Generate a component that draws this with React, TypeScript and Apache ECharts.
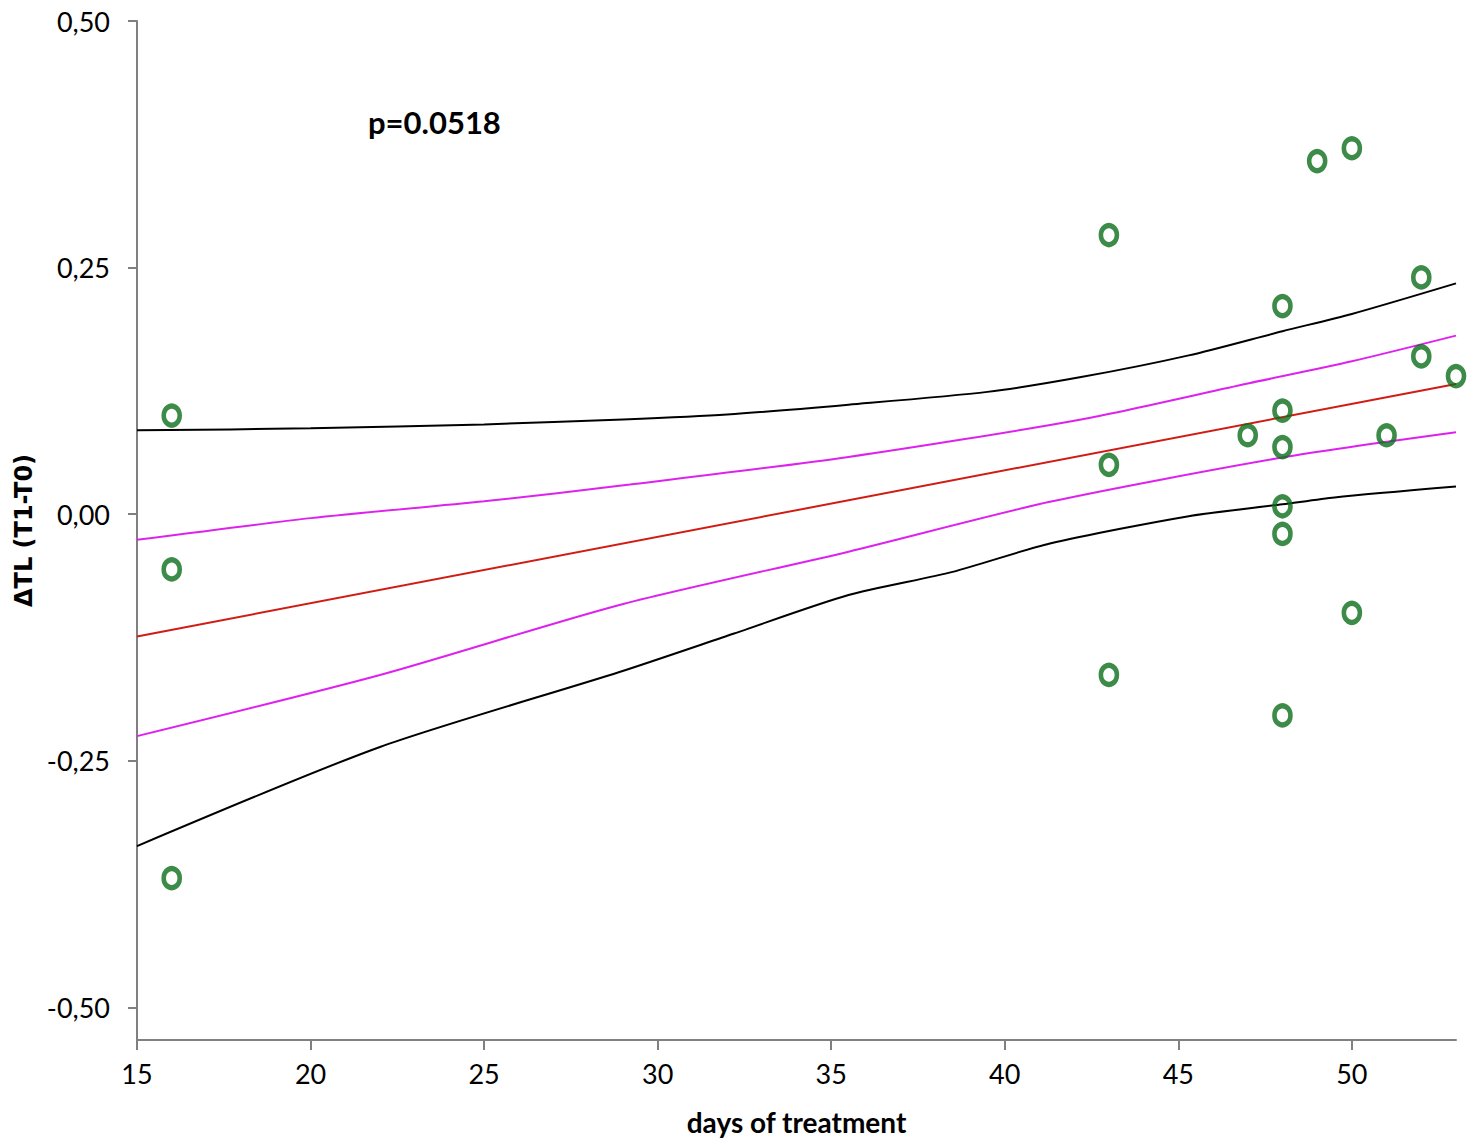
import React, { useEffect, useRef } from "react";
import * as echarts from "echarts";

const xTicks = [15, 20, 25, 30, 35, 40, 45, 50];
const yTicks = [-0.5, -0.25, 0, 0.25, 0.5];

const pointsX = [16, 16, 16, 43, 43, 43, 47, 48, 48, 48, 48, 48, 48, 49, 50, 50, 51, 52, 52, 53];
const pointsY = [0.1, -0.056, -0.369, 0.283, 0.05, -0.163, 0.08, 0.211, 0.105, 0.068, 0.008, -0.02, -0.204, 0.358, 0.371, -0.1, 0.08, 0.24, 0.16, 0.14];

const fitX = [15, 53];
const fitY = [-0.124, 0.132];

const upperPredX = [15, 20, 25, 29, 32, 35.5, 39.5, 42.2, 45.3, 48, 50, 53];
const upperPredY = [0.085, 0.087, 0.091, 0.096, 0.101, 0.111, 0.124, 0.139, 0.161, 0.1855, 0.203, 0.234];

const upperConfX = [15, 20, 25, 29.2, 35.5, 42.2, 47, 50, 53];
const upperConfY = [-0.026, -0.004, 0.013, 0.03, 0.058, 0.096, 0.1325, 0.155, 0.181];

const lowerConfX = [15, 22, 28.9, 35.5, 41.3, 48, 53];
const lowerConfY = [-0.225, -0.163, -0.092, -0.038, 0.0125, 0.0575, 0.083];

const lowerPredX = [15, 22, 28.9, 32.2, 35.5, 38.5, 41.3, 45.3, 48, 49.5, 53];
const lowerPredY = [-0.3365, -0.236, -0.16, -0.121, -0.082, -0.0585, -0.0297, -0.002, 0.01, 0.017, 0.028];

const zip = (xs: number[], ys: number[]) => xs.map((x, i) => [x, ys[i]]);

const FONT = "Lato";

export default function App() {
  const ref = useRef<HTMLDivElement>(null);
  useEffect(() => {
    if (!ref.current) return;
    const chart = echarts.init(ref.current, undefined, { renderer: "svg" });
    const lineSeries = (data: number[][], color: string, width = 2) => ({
      type: "line",
      data,
      showSymbol: false,
      symbol: "none",
      smooth: 0.25,
      lineStyle: { color, width },
      z: 2,
    });
    chart.setOption({
      animation: false,
      grid: { left: 129, right: 13, top: 21, bottom: 100, containLabel: false, outerBoundsMode: "none" },
      xAxis: {
        type: "value",
        min: 15,
        max: 53,
        interval: 5,
        name: "days of treatment",
        nameLocation: "middle",
        nameGap: 68,
        nameTextStyle: { fontFamily: FONT, fontWeight: "bold", fontSize: 28, color: "#000" },
        axisLine: { show: true, onZero: false, lineStyle: { color: "#808080", width: 2 } },
        axisTick: { show: true, length: 10, customValues: xTicks, lineStyle: { color: "#808080", width: 2 } },
        axisLabel: {
          customValues: xTicks,
          margin: 20,
          fontFamily: FONT,
          fontSize: 27,
          color: "#000",
        },
        splitLine: { show: false },
      },
      yAxis: {
        type: "value",
        min: -0.5331,
        max: 0.5,
        name: "ΔTL (T1-T0)",
        nameLocation: "middle",
        nameGap: 99,
        nameRotate: 90,
        nameTextStyle: { fontFamily: "DejaVu Sans", fontWeight: "bold", fontSize: 24, color: "#000" },
        axisLine: { show: true, onZero: false, lineStyle: { color: "#808080", width: 2 } },
        axisTick: { show: true, length: 9, customValues: yTicks, lineStyle: { color: "#808080", width: 2 } },
        axisLabel: {
          customValues: yTicks,
          margin: 27,
          fontFamily: FONT,
          fontSize: 27,
          color: "#000",
          formatter: (v: number) => v.toFixed(2).replace(".", ","),
        },
        splitLine: { show: false },
      },
      graphic: [
        {
          type: "text",
          left: 360,
          top: 106,
          style: {
            text: "p=0.0518",
            fontFamily: FONT,
            fontWeight: "bold",
            fontSize: 31,
            fill: "#000",
          },
        },
      ],
      series: [
        lineSeries(zip(upperPredX, upperPredY), "#000000"),
        lineSeries(zip(lowerPredX, lowerPredY), "#000000"),
        lineSeries(zip(upperConfX, upperConfY), "#dd22ee"),
        lineSeries(zip(lowerConfX, lowerConfY), "#dd22ee"),
        lineSeries(zip(fitX, fitY), "#d01c14"),
        {
          type: "scatter",
          data: zip(pointsX, pointsY),
          symbol: "circle",
          symbolSize: [16, 19],
          itemStyle: { color: "rgba(255,255,255,0)", borderColor: "#0b6e1a", borderWidth: 5 },
          z: 5,
        },
      ],
    });
    return () => chart.dispose();
  }, []);
  return <div ref={ref} style={{ width: 1461, height: 1140, marginTop: -8 }} />;
}
